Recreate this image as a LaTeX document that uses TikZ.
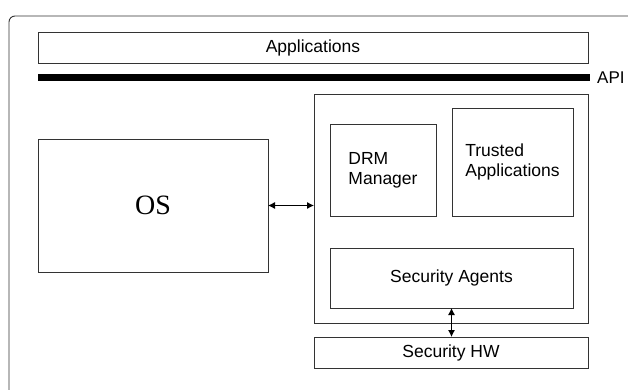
\documentclass[tikz,border=0pt]{standalone}
\usepackage{fontspec}
\setmainfont{Liberation Sans}
\newfontfamily\osfont{Liberation Serif}
\usetikzlibrary{arrows.meta}

\begin{document}
\begin{tikzpicture}[x=1pt,y=-1pt,
    blk/.style={draw=black!80, line width=0.9pt, inner sep=0pt, outer sep=0pt,
      anchor=north west, align=center, font=\fontsize{17.5}{20}\selectfont},
    link/.style={{Latex[length=7pt,width=7pt]}-{Latex[length=7pt,width=7pt]}, line width=0.9pt}]
    \useasboundingbox (0,0) rectangle (628,390);
    % outer frame, cut by the page
    \draw[line width=0.9pt, black!80, rounded corners=6pt] (9,400) -- (9,16) -- (640,16);
    \node[blk, minimum width=550pt, minimum height=31pt] (apps) at (38,32) {Applications};
    \node[fill=black, inner sep=0pt, anchor=north west, minimum width=552pt, minimum height=7pt] (bar) at (38,74) {};
    \node[anchor=west, inner sep=0pt, font=\fontsize{17}{20}\selectfont] (api) at (597,78) {API};
    \node[blk, minimum width=230pt, minimum height=133pt, font=\osfont\fontsize{28}{32}\selectfont] (os) at (38,139) {OS};
    \node[blk, minimum width=274pt, minimum height=229pt] (sec) at (314,94) {};
    \node[blk, minimum width=106pt, minimum height=92pt, align=left] (drm) at (330,124) {DRM\\Manager};
    \node[blk, minimum width=121pt, minimum height=108pt, align=left] (trusted) at (452,108) {Trusted\\Applications};
    \node[blk, minimum width=243pt, minimum height=60pt] (agents) at (330,248) {Security Agents};
    \node[blk, minimum width=274pt, minimum height=31pt] (hw) at (314,337) {Security HW};
    \draw[link] (os.east) -- (sec.west |- os.east);
    \draw[link] (agents.south) -- (hw.north -| agents.south);
\end{tikzpicture}
\end{document}
